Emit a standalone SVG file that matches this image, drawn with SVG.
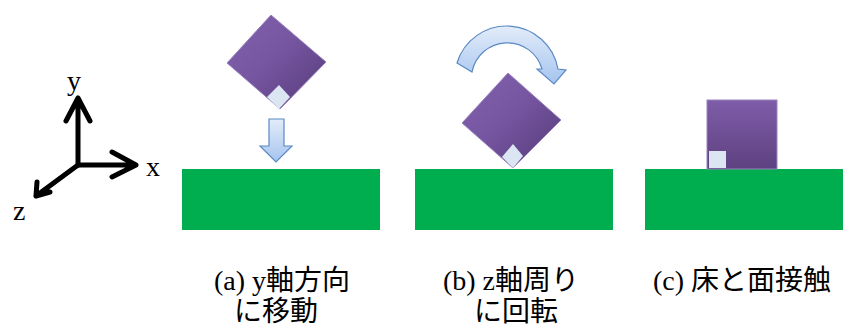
<svg xmlns="http://www.w3.org/2000/svg" width="844" height="328" viewBox="0 0 844 328">
  <defs>
    <linearGradient id="cubeDiag" x1="0" y1="0" x2="1" y2="1">
      <stop offset="0" stop-color="#8262ae"/>
      <stop offset="0.45" stop-color="#7656a1"/>
      <stop offset="1" stop-color="#553a78"/>
    </linearGradient>
    <linearGradient id="cubeVert" x1="0" y1="0" x2="0" y2="1">
      <stop offset="0" stop-color="#7f5da9"/>
      <stop offset="1" stop-color="#5d4180"/>
    </linearGradient>
    <linearGradient id="arrowFill" x1="0" y1="0" x2="0" y2="1">
      <stop offset="0" stop-color="#e2ecfa"/>
      <stop offset="1" stop-color="#a6c4ee"/>
    </linearGradient>
  </defs>
  <style>
    .floor { fill: #00ae4f; }
    .cube { stroke: #9a84bf; stroke-width: 1; }
    .mark { fill: #dce6f2; }
    .motion { fill: url(#arrowFill); stroke: #5a89c4; stroke-width: 1.2; stroke-linejoin: miter; }
    .axis { fill: none; stroke: #000; stroke-width: 5; stroke-linecap: round; stroke-linejoin: round; }
    .axlabel { font-family: "Liberation Serif", serif; font-size: 28px; fill: #000; }
    .caption { font-family: "Liberation Serif", "Noto Sans CJK JP", sans-serif; font-size: 28px; fill: #000; text-anchor: middle; }
  </style>

  <!-- coordinate axes -->
  <g id="axes">
    <path class="axis" d="M78 165 V98 M66 121 L78 98 L90 121"/>
    <path class="axis" d="M78 165 H136 M112 152 L136 165 L112 177"/>
    <path class="axis" d="M78 165 L36 196 M37 182 L36 196 L50 192"/>
    <text class="axlabel" x="67" y="90">y</text>
    <text class="axlabel" x="146" y="176">x</text>
    <text class="axlabel" x="13" y="220">z</text>
  </g>

  <!-- (a) translation along y -->
  <g id="panel-a">
    <rect class="floor" x="182" y="169" width="198" height="61"/>
    <polygon class="cube" fill="url(#cubeDiag)" points="227,63 271,15 326,62 280,109"/>
    <polygon class="mark" points="267,97 279,85 290,97 279,109"/>
    <polygon class="motion" points="269,119 284,119 284,146 292,146 276,162 260,146 269,146"/>
  </g>

  <!-- (b) rotation about z -->
  <g id="panel-b">
    <rect class="floor" x="415" y="169" width="198" height="61"/>
    <path class="motion" d="M457 63 A52 52 0 0 1 558 69 L566 70 L554 84 L537 69 L542 69 A36 36 0 0 0 472 72 Z"/>
    <polygon class="cube" fill="url(#cubeDiag)" points="462,123 508,73 561,120 513,168"/>
    <polygon class="mark" points="502,157 513,144 523,156 513,168"/>
  </g>

  <!-- (c) face contact with the floor -->
  <g id="panel-c">
    <rect class="floor" x="645" y="169" width="198" height="61"/>
    <rect class="cube" fill="url(#cubeVert)" x="707" y="100" width="70" height="69"/>
    <rect class="mark" x="709" y="151" width="17" height="17"/>
  </g>

  <!-- captions -->
  <g id="captions">
    <text class="caption" x="282" y="290">(a) y軸方向</text>
    <text class="caption" x="276" y="321">に移動</text>
    <text class="caption" x="511" y="290">(b) z軸周り</text>
    <text class="caption" x="516" y="321">に回転</text>
    <text class="caption" x="742" y="290">(c) 床と面接触</text>
  </g>
</svg>
